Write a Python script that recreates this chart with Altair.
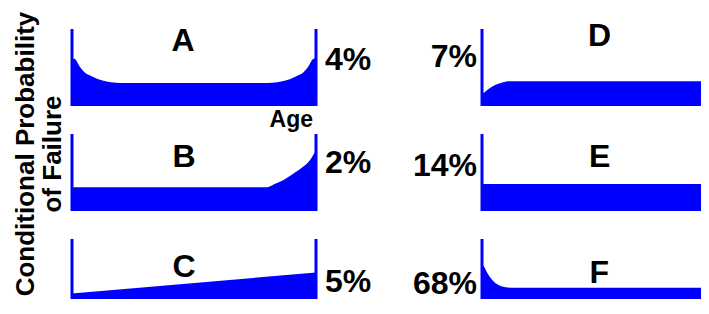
import altair as alt
import pandas as pd

# ---- data (age fraction, conditional probability fraction) ----
A_age  = [0, 0.012, 0.03, 0.05, 0.085, 0.125, 0.16, 0.2, 0.8, 0.84, 0.875, 0.915, 0.95, 0.97, 0.988, 1.0]
A_prob = [0.62, 0.61, 0.52, 0.44, 0.38, 0.33, 0.31, 0.30, 0.30, 0.31, 0.33, 0.38, 0.44, 0.52, 0.61, 0.62]

B_age  = [0, 0.8, 0.83, 0.865, 0.905, 0.945, 0.975, 1.0]
B_prob = [0.31, 0.31, 0.35, 0.40, 0.48, 0.57, 0.66, 0.79]

C_age  = [0, 1.0]
C_prob = [0.22, 0.52]

D_age  = [0, 0.012, 0.03, 0.057, 0.086, 0.127, 1.0]
D_prob = [0.16, 0.18, 0.22, 0.27, 0.30, 0.32, 0.32]

E_age  = [0, 1.0]
E_prob = [0.35, 0.35]

F_age  = [0, 0.008, 0.025, 0.045, 0.07, 0.107, 0.14, 1.0]
F_prob = [0.63, 0.61, 0.51, 0.42, 0.35, 0.31, 0.30, 0.30]

letters  = ["A", "B", "C", "D", "E", "F"]
percents = ["4%", "2%", "5%", "7%", "14%", "68%"]
y_title  = ["Conditional Probability", "of Failure"]
x_title  = "Age"

# placement of letter (in data units) and percent label height
letter_x = [0.455, 0.459, 0.459, 0.537, 0.537, 0.535]
letter_y = [0.84, 0.70, 0.599, 0.91, 0.70, 0.513]
pct_y    = [0.60, 0.62, 0.384, 0.63, 0.58, 0.362]

BLUE = "#0000ff"
FONT = "Liberation Sans"
WL, WR, H, H3 = 244, 219, 77, 60
YMIN3 = 0.14


def panel(i, age, prob, side, w, h, ymin=0.0, extra=None):
    xs = alt.Scale(domain=[0, 1], nice=False)
    ys = alt.Scale(domain=[ymin, 1], nice=False)
    X = alt.X("age:Q", scale=xs, axis=None)
    Y = alt.Y("prob:Q", scale=ys, axis=None)

    df = pd.DataFrame({"age": age, "prob": prob})
    area = alt.Chart(df).mark_area(color=BLUE, interpolate="monotone", opacity=1, clip=True).encode(
        x=X, y=Y, y2=alt.datum(ymin))

    edges = [0, 1] if side == "left" else [0]
    rdf = pd.DataFrame({"age": edges, "prob": [ymin] * len(edges), "hi": [1] * len(edges)})
    rule = alt.Chart(rdf).mark_rule(color=BLUE, strokeWidth=3).encode(x=X, y=Y, y2="hi:Q")

    ldf = pd.DataFrame({"age": [letter_x[i]], "prob": [letter_y[i]], "t": [letters[i]]})
    let = alt.Chart(ldf).mark_text(font=FONT, fontSize=32, fontWeight="bold", color="black",
                                   align="center", baseline="middle").encode(x=X, y=Y, text="t:N")

    if side == "left":
        pdf = pd.DataFrame({"age": [1.0], "prob": [pct_y[i]], "t": [percents[i]]})
        pct = alt.Chart(pdf).mark_text(font=FONT, fontSize=32, fontWeight="bold", color="black",
                                       align="left", baseline="middle", dx=9)
    else:
        pdf = pd.DataFrame({"age": [0.0], "prob": [pct_y[i]], "t": [percents[i]]})
        pct = alt.Chart(pdf).mark_text(font=FONT, fontSize=32, fontWeight="bold", color="black",
                                       align="right", baseline="middle", dx=-5)
    pct = pct.encode(x=X, y=Y, text="t:N")

    layers = [area, rule, let, pct]
    if extra == "age":
        adf = pd.DataFrame({"age": [1.0], "prob": [0.0], "t": [x_title]})
        layers.append(alt.Chart(adf).mark_text(font=FONT, fontSize=23, fontWeight="bold", color="black",
                                               align="right", baseline="middle", dx=-3, dy=14)
                      .encode(x=X, y=Y, text="t:N"))
    if extra == "ytitle":
        tdf = pd.DataFrame({"age": [-0.19], "prob": [0.74], "t": [y_title]})
        layers.append(alt.Chart(tdf).mark_text(font=FONT, fontSize=26, fontWeight="bold", color="black",
                                               align="center", baseline="middle", angle=270, lineHeight=27)
                      .encode(x=X, y=Y, text="t"))
    return alt.layer(*layers).properties(width=w, height=h)


panels = [
    panel(0, A_age, A_prob, "left", WL, H, extra="age"),   panel(3, D_age, D_prob, "right", WR, H),
    panel(1, B_age, B_prob, "left", WL, H, extra="ytitle"), panel(4, E_age, E_prob, "right", WR, H),
    panel(2, C_age, C_prob, "left", WL, H3, ymin=YMIN3),    panel(5, F_age, F_prob, "right", WR, H3, ymin=YMIN3),
]

chart = alt.concat(*panels, columns=2, spacing={"row": 28, "column": 166}, bounds="flush").properties(
    padding={"left": 4, "top": 3, "right": 0, "bottom": 0},
).configure_view(stroke=None)

chart.save("out.html", embed_options={"renderer": "svg", "actions": False})
